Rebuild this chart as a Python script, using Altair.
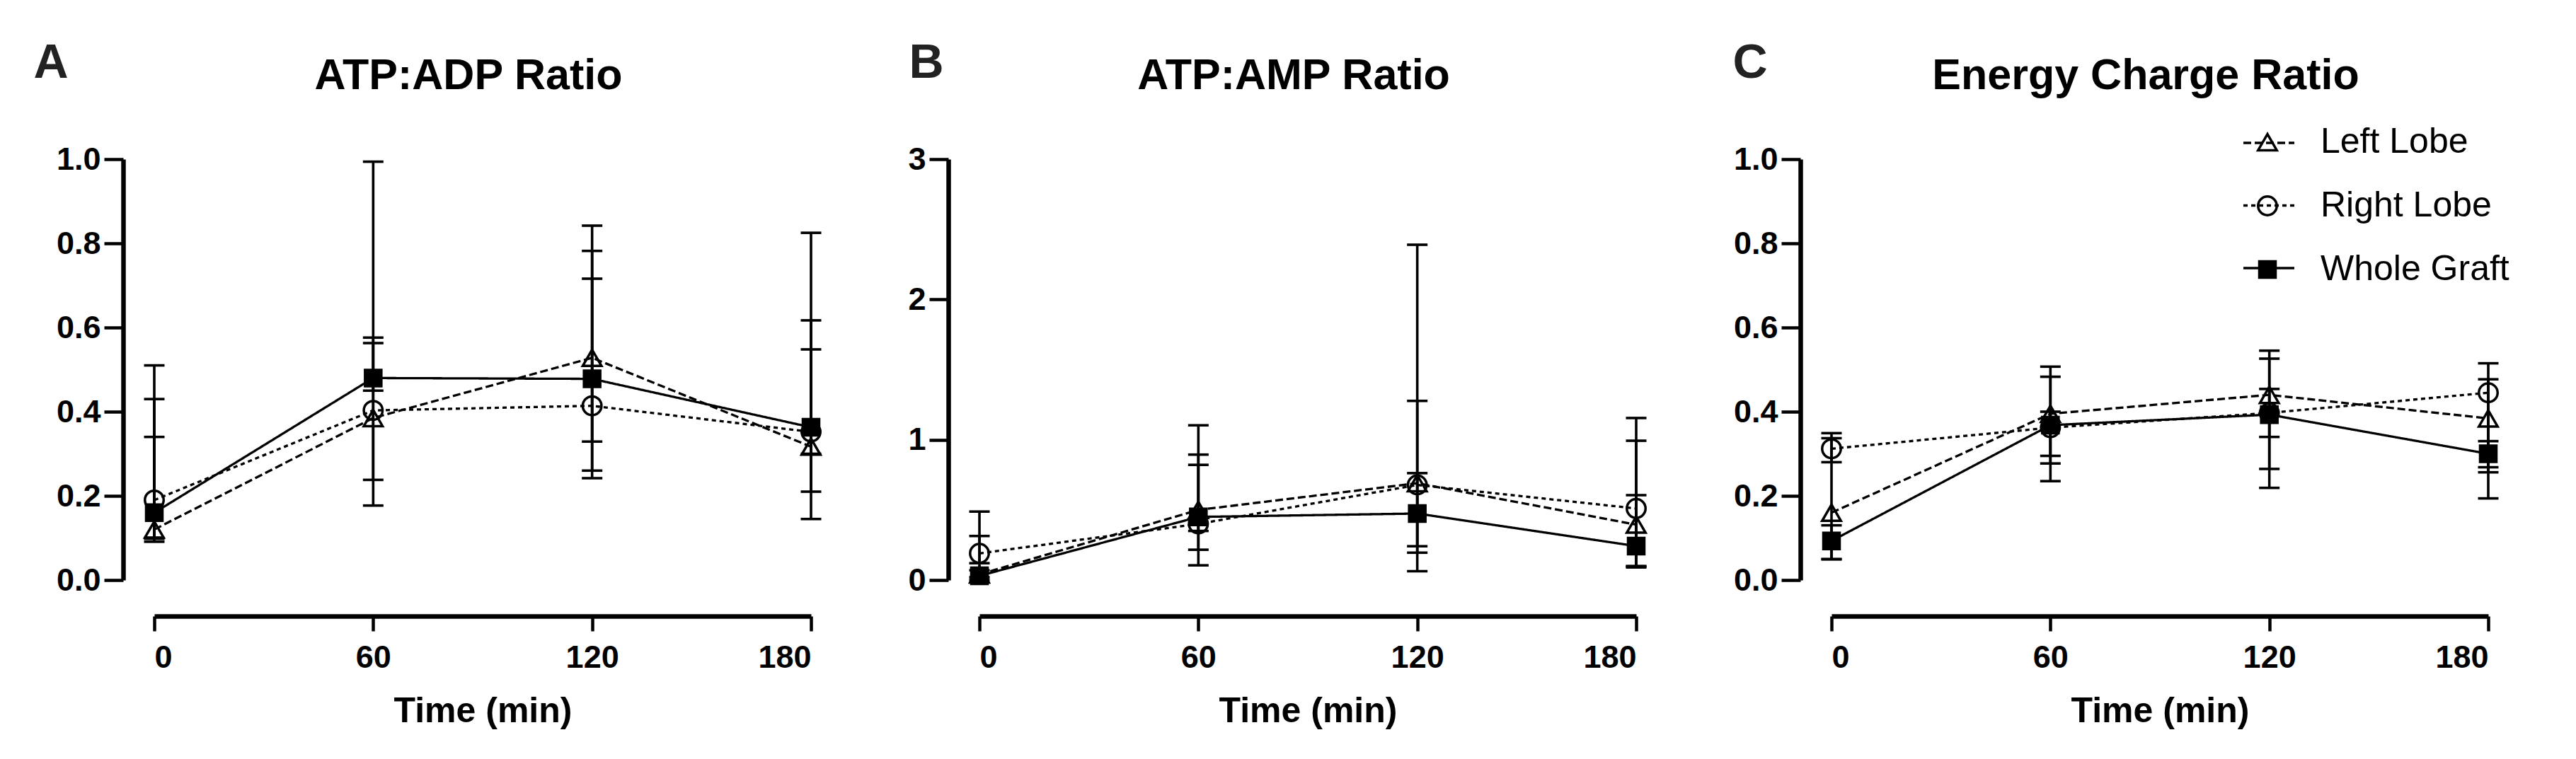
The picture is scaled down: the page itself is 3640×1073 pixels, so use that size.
import altair as alt
import pandas as pd

times = [0, 60, 120, 180]
series_names = ["Left Lobe", "Right Lobe", "Whole Graft"]
dash_keys = ["L", "R", "W"]

# Panel A: ATP:ADP Ratio
adp_left_mean = [0.12, 0.385, 0.528, 0.317]
adp_left_lo = [0.098, 0.177, 0.242, 0.30]
adp_left_hi = [0.34, 0.576, 0.842, 0.617]
adp_right_mean = [0.19, 0.403, 0.414, 0.352]
adp_right_lo = [0.091, 0.238, 0.329, 0.210]
adp_right_hi = [0.51, 0.563, 0.716, 0.548]
adp_whole_mean = [0.16, 0.48, 0.478, 0.363]
adp_whole_lo = [0.10, 0.45, 0.260, 0.145]
adp_whole_hi = [0.43, 0.994, 0.782, 0.825]

# Panel B: ATP:AMP Ratio
amp_left_mean = [0.04, 0.50, 0.69, 0.395]
amp_left_lo = [0.02, 0.105, 0.195, 0.09]
amp_left_hi = [0.314, 1.103, 1.277, 0.993]
amp_right_mean = [0.19, 0.40, 0.678, 0.51]
amp_right_lo = [0.12, 0.35, 0.063, 0.10]
amp_right_hi = [0.488, 0.821, 2.39, 1.155]
amp_whole_mean = [0.03, 0.45, 0.474, 0.242]
amp_whole_lo = [0.0, 0.216, 0.241, 0.096]
amp_whole_hi = [0.07, 0.894, 0.762, 0.605]

# Panel C: Energy Charge Ratio
ec_left_mean = [0.16, 0.395, 0.44, 0.384]
ec_left_lo = [0.05, 0.277, 0.340, 0.256]
ec_left_hi = [0.337, 0.507, 0.545, 0.477]
ec_right_mean = [0.312, 0.362, 0.397, 0.445]
ec_right_lo = [0.28, 0.295, 0.264, 0.268]
ec_right_hi = [0.349, 0.40, 0.454, 0.515]
ec_whole_mean = [0.093, 0.368, 0.393, 0.30]
ec_whole_lo = [0.049, 0.235, 0.219, 0.194]
ec_whole_hi = [0.13, 0.483, 0.526, 0.33]

FONT = "Liberation Sans"

# solid-looking square drawn as nested outlines (so open and filled markers share one layer)
SOLID_SQUARE = ("M-0.87,-0.87H0.87V0.87H-0.87Z"
                "M-0.62,-0.62H0.62V0.62H-0.62Z"
                "M-0.37,-0.37H0.37V0.37H-0.37Z"
                "M-0.12,-0.12H0.12V0.12H-0.12Z")


def panel_df(groups):
    rows = []
    for name, key, (m, lo, hi) in zip(series_names, dash_keys, groups):
        for t, a, b, c in zip(times, m, lo, hi):
            rows.append({"time": t, "series": name, "series_dash": key,
                         "mean": a, "lo": b, "hi": c})
    return pd.DataFrame(rows)


shape_scale = alt.Scale(domain=series_names, range=["triangle-up", "circle", SOLID_SQUARE])
dash_scale = alt.Scale(domain=dash_keys, range=[[11, 5], [6, 5], [1, 0]])

legend_points = alt.Legend(
    title=None, orient="none", legendX=2961, legendY=-49, padding=0,
    symbolSize=700, symbolStrokeWidth=3.5, symbolStrokeColor="black",
    symbolFillColor="transparent",
    labelFont=FONT, labelFontSize=50, labelColor="black", labelOffset=50,
    labelLimit=0, rowPadding=40,
)
legend_lines = alt.Legend(
    title=None, orient="none", legendX=2950, legendY=-61, padding=0,
    symbolType="stroke", symbolSize=5184, symbolStrokeWidth=3.3,
    symbolStrokeColor="black", labelFont=FONT, labelFontSize=50,
    labelExpr="''", labelLimit=0, rowPadding=25.5,
)


def panel(df, title, ymax, yvals, yfmt, letter, lx):
    xaxis = alt.Axis(values=times, title="Time (min)", offset=51, tickSize=21,
                     labelPadding=15, titlePadding=28, titleFontSize=50)
    yaxis = alt.Axis(values=yvals, format=yfmt, offset=44, tickSize=27,
                     labelPadding=5, title=letter, titleAngle=0, titleX=lx,
                     titleY=-136, titleAlign="left", titleBaseline="middle",
                     titleFontSize=68, titleColor="#222222")
    xs = alt.Scale(domain=[0, 180], nice=False, zero=False)
    ys = alt.Scale(domain=[0, ymax], nice=False)
    base = alt.Chart(df)
    X = alt.X("time:Q", scale=xs, axis=xaxis)
    bars = base.mark_rule(strokeWidth=3.6, color="black").encode(
        x=X, y=alt.Y("lo:Q", scale=ys, axis=yaxis), y2="hi:Q")
    cap_lo = base.mark_tick(orient="horizontal", size=29, thickness=3.6,
                            color="black", opacity=1).encode(
        x=X, y=alt.Y("lo:Q", scale=ys, axis=yaxis))
    cap_hi = base.mark_tick(orient="horizontal", size=29, thickness=3.6,
                            color="black", opacity=1).encode(
        x=X, y=alt.Y("hi:Q", scale=ys, axis=yaxis))
    lines = base.mark_line(strokeWidth=3.3, color="black").encode(
        x=X, y=alt.Y("mean:Q", scale=ys, axis=yaxis),
        strokeDash=alt.StrokeDash("series_dash:N", scale=dash_scale,
                                  legend=legend_lines))
    points = base.mark_point(size=700, strokeWidth=3.5, color="black",
                             filled=False, opacity=1).encode(
        x=X, y=alt.Y("mean:Q", scale=ys, axis=yaxis),
        shape=alt.Shape("series:N", scale=shape_scale, legend=legend_points))
    return alt.layer(bars, cap_lo, cap_hi, lines, points).properties(
        width=928, height=595,
        title=alt.TitleParams(title, font=FONT, fontSize=61, fontWeight="bold",
                              color="black", anchor="middle", dx=-20, dy=94,
                              offset=10),
    )


dfA = panel_df([(adp_left_mean, adp_left_lo, adp_left_hi),
                (adp_right_mean, adp_right_lo, adp_right_hi),
                (adp_whole_mean, adp_whole_lo, adp_whole_hi)])
dfB = panel_df([(amp_left_mean, amp_left_lo, amp_left_hi),
                (amp_right_mean, amp_right_lo, amp_right_hi),
                (amp_whole_mean, amp_whole_lo, amp_whole_hi)])
dfC = panel_df([(ec_left_mean, ec_left_lo, ec_left_hi),
                (ec_right_mean, ec_right_lo, ec_right_hi),
                (ec_whole_mean, ec_whole_lo, ec_whole_hi)])

pA = panel(dfA, "ATP:ADP Ratio", 1.0, [0, 0.2, 0.4, 0.6, 0.8, 1.0], ".1f", "A", -127)
pB = panel(dfB, "ATP:AMP Ratio", 3.0, [0, 1, 2, 3], "d", "B", -56)
pC = panel(dfC, "Energy Charge Ratio", 1.0, [0, 0.2, 0.4, 0.6, 0.8, 1.0], ".1f", "C", -96)

chart = alt.hconcat(pA, pB, pC, spacing=115).properties(
    padding={"left": 39, "top": 47, "right": 5, "bottom": 5},
    background="white",
).configure_view(stroke=None).configure_axis(
    grid=False, domainColor="black", domainWidth=6.5, tickColor="black",
    tickWidth=4.5, labelFont=FONT, labelFontWeight="bold", labelFontSize=45,
    labelColor="black", titleFont=FONT, titleFontWeight="bold",
    titleColor="black",
)

chart.save("out.html", embed_options={"renderer": "svg", "actions": False})
